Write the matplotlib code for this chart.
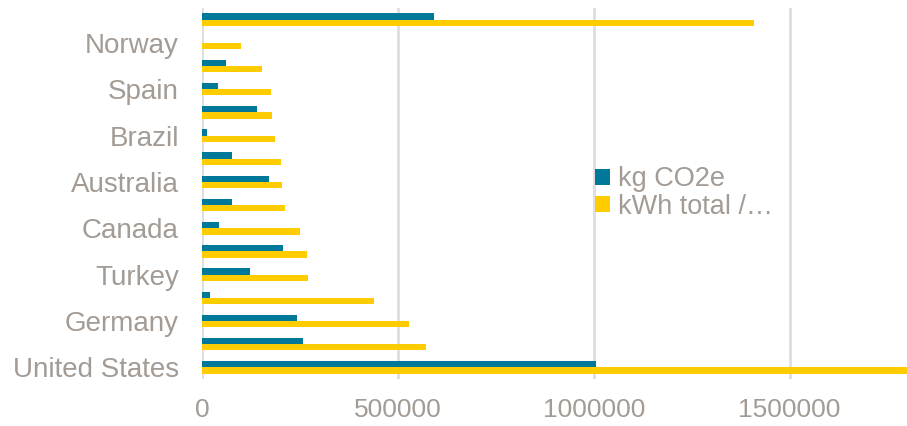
import matplotlib.pyplot as plt
import numpy as np

# countries from bottom to top; only every other one gets a label on the axis
countries = ['United States', '', 'Germany', '', 'Turkey', '', 'Canada', '',
             'Australia', '', 'Brazil', '', 'Spain', '', 'Norway', '']
kg_co2e = [1005000, 258000, 242000, 20000, 122000, 206000, 43000, 76000,
           170000, 76000, 13000, 139000, 40000, 60000, 0, 592000]
kwh_total = [1850000, 570000, 527000, 439000, 270000, 268000, 249000, 212000,
             203000, 202000, 185000, 179000, 176000, 151000, 99000, 1410000]
series_names = ['kg CO2e', 'kWh total /\u2026']
x_ticks = [0, 500000, 1000000, 1500000]

teal = '#00789A'
yellow = '#FFCC00'
txt = '#A39B94'

plt.rcParams['font.family'] = ['Liberation Sans', 'DejaVu Sans']

fig = plt.figure(figsize=(9.07, 4.26), dpi=100)
ax = fig.add_axes([202.4 / 907, 1 - 379 / 426, 1 - 202.4 / 907, 371 / 426])

y = np.arange(len(countries))
h = 0.27
ax.barh(y + h / 2, kg_co2e, height=h, color=teal, label=series_names[0], zorder=3)
ax.barh(y - h / 2, kwh_total, height=h, color=yellow, label=series_names[1], zorder=3)

ax.set_xlim(0, 1800000)
ax.set_ylim(-0.5, len(countries) - 0.5)

ax.set_xticks(x_ticks)
ax.set_xticklabels([str(v) for v in x_ticks])
ax.set_yticks(y)
ax.set_yticklabels(countries)
ax.tick_params(axis='both', length=0, labelcolor=txt)
ax.tick_params(axis='y', pad=17, labelsize=20)
ax.tick_params(axis='x', pad=14, labelsize=19)

ax.grid(axis='x', color='#DEDEDE', linewidth=2, zorder=0)
ax.set_axisbelow(True)
for s in ax.spines.values():
    s.set_visible(False)

leg = fig.legend(loc='center left', bbox_to_anchor=(595 / 907, 1 - 193 / 426),
                 frameon=False, fontsize=19.5, borderpad=0, borderaxespad=0,
                 handlelength=0.55, handleheight=0.55, handletextpad=0.3,
                 labelspacing=0.05)
for t in leg.get_texts():
    t.set_color(txt)

fig.savefig('out.png', dpi=100)
